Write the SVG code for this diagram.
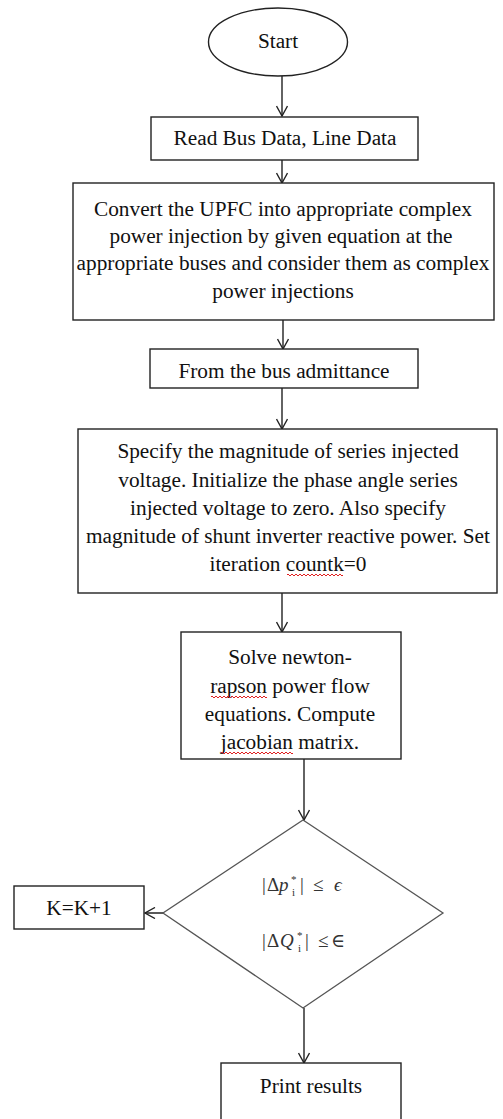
<svg xmlns="http://www.w3.org/2000/svg" width="503" height="1119" viewBox="0 0 503 1119">
<style>
.bx{fill:#fff;stroke:#222;stroke-width:1.4}
.dm{fill:#fff;stroke:#555;stroke-width:1.3}
.t{font-family:"Liberation Serif","Times New Roman",serif;font-size:21.3px;fill:#111;text-anchor:middle}
.m{font-family:"Liberation Serif","DejaVu Serif",serif;font-size:19px;fill:#333}
.mi{font-style:italic}
.s{font-size:11px}
.c{stroke:#222;stroke-width:1.4;fill:none}
.sq{stroke:#e02020;stroke-width:1;fill:none}
</style>
<defs>
<marker id="ah" viewBox="0 0 12 12" refX="11" refY="6" markerWidth="12" markerHeight="12" markerUnits="userSpaceOnUse" orient="auto">
<path d="M1,0.5 L11,6 L1,11.5" fill="none" stroke="#222" stroke-width="1.4"/>
</marker>
</defs>
<rect width="503" height="1119" fill="#fff"/>
<g id="connectors">
<line class="c" x1="282" y1="76" x2="282" y2="116" marker-end="url(#ah)"/>
<line class="c" x1="282" y1="160" x2="282" y2="183" marker-end="url(#ah)"/>
<line class="c" x1="283" y1="320" x2="283" y2="349" marker-end="url(#ah)"/>
<line class="c" x1="282" y1="388" x2="282" y2="429" marker-end="url(#ah)"/>
<line class="c" x1="282" y1="593" x2="282" y2="632" marker-end="url(#ah)"/>
<line class="c" x1="304" y1="759" x2="304" y2="820" marker-end="url(#ah)"/>
<line class="c" x1="304" y1="1008" x2="304" y2="1063" marker-end="url(#ah)"/>
<line class="c" x1="180" y1="913" x2="145" y2="913" marker-end="url(#ah)"/>
</g>
<g id="start">
<ellipse class="bx" cx="278" cy="42" rx="69.5" ry="34"/>
<text class="t" x="278" y="48">Start</text>
</g>
<g id="read">
<rect class="bx" x="151" y="117" width="267" height="43"/>
<text class="t" x="285" y="145">Read Bus Data, Line Data</text>
</g>
<g id="convert">
<rect class="bx" x="73" y="183" width="421" height="137"/>
<text class="t" x="283" y="216">Convert the UPFC into appropriate complex</text>
<text class="t" x="281" y="243">power injection by given equation at the</text>
<text class="t" x="283" y="270">appropriate buses and consider them as complex</text>
<text class="t" x="283" y="298">power injections</text>
</g>
<g id="admittance">
<rect class="bx" x="150" y="349" width="268" height="39"/>
<text class="t" x="284" y="378">From the bus admittance</text>
</g>
<g id="specify">
<rect class="bx" x="78" y="429" width="419" height="164"/>
<text class="t" x="288" y="458">Specify the magnitude of series injected</text>
<text class="t" x="288" y="487">voltage. Initialize the phase angle series</text>
<text class="t" x="288" y="515">injected voltage to zero. Also specify</text>
<text class="t" x="288" y="543">magnitude of shunt inverter reactive power. Set</text>
<text class="t" x="288" y="571">iteration countk=0</text>
<path class="sq" d="M287,575 q1,-2 2,0 t2,0 t2,0 t2,0 t2,0 t2,0 t2,0 t2,0 t2,0 t2,0 t2,0 t2,0 t2,0 t2,0 t2,0 t2,0 t2,0 t2,0 t2,0 t2,0 t2,0 t2,0 t2,0 t2,0 t2,0 t2,0 t2,0 t2,0"/>
</g>
<g id="solve">
<rect class="bx" x="181" y="632" width="220" height="127"/>
<text class="t" x="290" y="664">Solve newton-</text>
<text class="t" x="290" y="693">rapson power flow</text>
<text class="t" x="290" y="721">equations. Compute</text>
<text class="t" x="290" y="749">jacobian matrix.</text>
<path class="sq" d="M211,697 q1,-2 2,0 t2,0 t2,0 t2,0 t2,0 t2,0 t2,0 t2,0 t2,0 t2,0 t2,0 t2,0 t2,0 t2,0 t2,0 t2,0 t2,0 t2,0 t2,0 t2,0 t2,0 t2,0 t2,0 t2,0 t2,0 t2,0 t2,0 t2,0"/>
<path class="sq" d="M221,753 q1,-2 2,0 t2,0 t2,0 t2,0 t2,0 t2,0 t2,0 t2,0 t2,0 t2,0 t2,0 t2,0 t2,0 t2,0 t2,0 t2,0 t2,0 t2,0 t2,0 t2,0 t2,0 t2,0 t2,0 t2,0 t2,0 t2,0 t2,0 t2,0 t2,0 t2,0 t2,0 t2,0 t2,0 t2,0 t2,0 t2,0"/>
</g>
<g id="decision">
<polygon class="dm" points="303,820 443,913 303,1008 163,913"/>
<text class="m" y="891"><tspan x="262">|</tspan><tspan x="267">Δ</tspan><tspan x="279" class="mi">p</tspan><tspan x="300">|</tspan><tspan x="313">≤</tspan><tspan x="334" class="mi">ϵ</tspan></text>
<text class="m s" x="291" y="883">*</text>
<text class="m s" x="292" y="896">i</text>
<text class="m" y="947"><tspan x="262">|</tspan><tspan x="267">Δ</tspan><tspan x="280" class="mi">Q</tspan><tspan x="305">|</tspan><tspan x="318">≤</tspan><tspan x="331">∈</tspan></text>
<text class="m s" x="297" y="939">*</text>
<text class="m s" x="298" y="952">i</text>
</g>
<g id="increment">
<rect class="bx" x="14" y="886" width="130" height="43"/>
<text class="t" x="79" y="915">K=K+1</text>
</g>
<g id="print">
<rect class="bx" x="221" y="1063" width="180" height="70"/>
<text class="t" x="311" y="1093">Print results</text>
</g>
</svg>
